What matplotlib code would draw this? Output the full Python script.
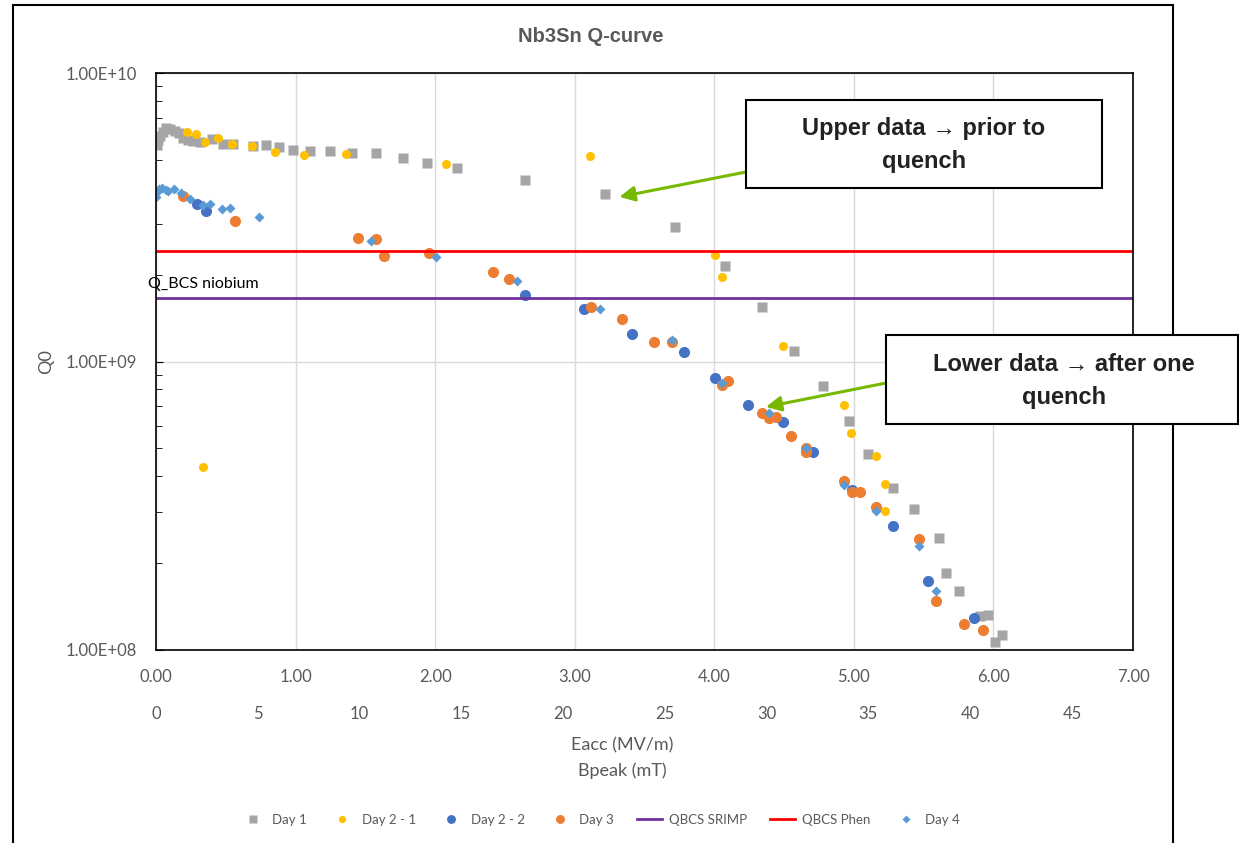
import numpy as np
import matplotlib
matplotlib.use('Agg')
import matplotlib.pyplot as plt
from matplotlib.patches import Rectangle
from matplotlib.ticker import FixedLocator, FuncFormatter, LogLocator, NullFormatter

plt.rcParams['font.family'] = ['Lato', 'DejaVu Sans']

# Eacc (MV/m) / Q0 for every run
day1_e = [0.007, 0.014, 0.029, 0.050, 0.072, 0.100, 0.136, 0.165, 0.193, 0.229,
          0.265, 0.315, 0.401, 0.480, 0.552, 0.695, 0.788, 0.881, 0.981, 1.103,
          1.246, 1.404, 1.576, 1.769, 1.941, 2.156, 2.643, 3.216, 3.718, 4.076,
          4.341, 4.570, 4.778, 4.964, 5.100, 5.279, 5.430, 5.609, 5.659, 5.752,
          5.903, 5.960, 6.010, 6.060]
day1_q = [5.63e9, 5.86e9, 6.05e9, 6.24e9, 6.45e9, 6.40e9, 6.29e9, 6.20e9, 5.95e9, 5.86e9,
          5.81e9, 5.77e9, 5.90e9, 5.67e9, 5.67e9, 5.58e9, 5.63e9, 5.54e9, 5.41e9, 5.37e9,
          5.37e9, 5.28e9, 5.28e9, 5.08e9, 4.88e9, 4.69e9, 4.26e9, 3.81e9, 2.92e9, 2.14e9,
          1.545e9, 1.088e9, 8.22e8, 6.22e8, 4.78e8, 3.64e8, 3.08e8, 2.44e8, 1.85e8, 1.60e8,
          1.31e8, 1.32e8, 1.07e8, 1.13e8]

day21_e = [0.222, 0.287, 0.351, 0.444, 0.544, 0.688, 0.852, 1.060, 1.361, 2.077,
           3.109, 4.004, 4.054, 4.491, 4.928, 4.979, 5.158, 5.222, 5.222, 0.337]
day21_q = [6.24e9, 6.15e9, 5.77e9, 5.95e9, 5.67e9, 5.58e9, 5.32e9, 5.20e9, 5.24e9, 4.84e9,
           5.16e9, 2.34e9, 1.96e9, 1.13e9, 7.07e8, 5.65e8, 4.70e8, 3.76e8, 3.03e8, 4.31e8]

day22_e = [0.294, 0.358, 2.643, 3.066, 3.410, 3.782, 4.004, 4.241, 4.491, 4.706,
           4.986, 5.279, 5.530, 5.860]
day22_q = [3.51e9, 3.32e9, 1.70e9, 1.52e9, 1.245e9, 1.079e9, 8.77e8, 7.07e8, 6.17e8, 4.86e8,
           3.59e8, 2.69e8, 1.73e8, 1.29e8]

day3_e = [0.193, 0.566, 1.447, 1.576, 1.633, 1.956, 2.414, 2.529, 3.116, 3.338,
          3.567, 3.696, 4.097, 4.054, 4.341, 4.391, 4.441, 4.549, 4.656, 4.656,
          4.928, 4.986, 5.043, 5.158, 5.466, 5.587, 5.788, 5.924]
day3_q = [3.75e9, 3.07e9, 2.68e9, 2.66e9, 2.32e9, 2.38e9, 2.04e9, 1.93e9, 1.545e9, 1.40e9,
          1.168e9, 1.168e9, 8.56e8, 8.29e8, 6.63e8, 6.37e8, 6.42e8, 5.52e8, 5.01e8, 4.86e8,
          3.85e8, 3.53e8, 3.53e8, 3.13e8, 2.43e8, 1.48e8, 1.23e8, 1.17e8]

day4_e = [0.0, 0.007, 0.021, 0.043, 0.072, 0.086, 0.129, 0.179, 0.244, 0.337,
          0.387, 0.473, 0.530, 0.738, 1.540, 2.006, 2.586, 3.181, 3.696, 4.054,
          4.391, 4.656, 4.928, 5.158, 5.466, 5.587]
day4_q = [3.72e9, 3.87e9, 3.96e9, 3.99e9, 3.93e9, 3.90e9, 3.96e9, 3.84e9, 3.66e9, 3.49e9,
          3.51e9, 3.38e9, 3.40e9, 3.17e9, 2.62e9, 2.30e9, 1.90e9, 1.52e9, 1.187e9, 8.42e8,
          6.63e8, 5.01e8, 3.73e8, 3.03e8, 2.29e8, 1.60e8]

# reference lines
line_e = [0, 7]
q_srimp = 1.66e9
q_phen = 2.42e9

eacc_ticks = [0, 1, 2, 3, 4, 5, 6, 7]
bpeak_ticks = [0, 5, 10, 15, 20, 25, 30, 35, 40, 45]
b_per_e = 48 / 7

grey_txt = '#595959'

fig = plt.figure(figsize=(12.39, 8.43), dpi=100)
ax = fig.add_axes([156 / 1239, 1 - 650 / 843, 977 / 1239, 577 / 843])

ax.plot(day1_e, day1_q, 's', color='#A5A5A5', ms=6.5, mec='none', label='Day 1')
ax.plot(day21_e, day21_q, 'o', color='#FFC000', ms=6.5, mec='none', label='Day 2 - 1')
ax.plot(day22_e, day22_q, 'o', color='#4472C4', ms=8, mec='none', label='Day 2 - 2')
ax.plot(day3_e, day3_q, 'o', color='#ED7D31', ms=8, mec='none', label='Day 3')
ax.plot(line_e, [q_srimp, q_srimp], '-', color='#7030A0', lw=2, label='QBCS SRIMP')
ax.plot(line_e, [q_phen, q_phen], '-', color='#FF0000', lw=2, label='QBCS Phen')
ax.plot(day4_e, day4_q, 'D', color='#5B9BD5', ms=5, mec='none', label='Day 4')

ax.set_yscale('log')
ax.set_ylim(1e8, 1e10)
ax.set_xlim(0, 7)

ax.yaxis.set_major_locator(FixedLocator([1e8, 1e9, 1e10]))
ax.yaxis.set_major_formatter(FuncFormatter(lambda v, p: f'{v:.2E}'))
ax.yaxis.set_minor_locator(LogLocator(base=10, subs=np.arange(2, 10)))
ax.yaxis.set_minor_formatter(NullFormatter())
ax.xaxis.set_major_locator(FixedLocator(eacc_ticks))
ax.xaxis.set_major_formatter(FuncFormatter(lambda v, p: f'{v:.2f}'))

ax.grid(True, which='major', color='#D9D9D9', lw=1)
ax.set_axisbelow(True)
for s in ax.spines.values():
    s.set_color('black')
    s.set_linewidth(1.2)

ax.tick_params(axis='y', which='major', direction='in', length=5, color='black',
               labelsize=12, labelcolor=grey_txt, pad=14)
ax.tick_params(axis='y', which='minor', direction='in', length=4, color='black')
ax.tick_params(axis='x', length=0, labelsize=12, labelcolor=grey_txt, pad=14)

sec = ax.secondary_xaxis('bottom', functions=(lambda e: e * b_per_e, lambda b: b / b_per_e))
sec.set_xticks(bpeak_ticks)
sec.tick_params(length=0, labelsize=12, labelcolor=grey_txt, pad=40.5)
sec.spines['bottom'].set_visible(False)

ax.set_ylabel('Q0', fontsize=13, color=grey_txt, labelpad=8)
fig.text(622 / 1239, 1 - 745 / 843, 'Eacc (MV/m)', ha='center', va='center',
         fontsize=13, color=grey_txt)
fig.text(622 / 1239, 1 - 771 / 843, 'Bpeak (mT)', ha='center', va='center',
         fontsize=13, color=grey_txt)

fig.text(591 / 1239, 1 - 37 / 843, 'Nb3Sn Q-curve', ha='center', va='center',
         fontsize=14.5, fontweight='bold', color=grey_txt,
         family=['Liberation Sans', 'DejaVu Sans'])

ax.text(-0.055, q_srimp * 1.12, 'Q_BCS niobium', fontsize=11.5, color='black',
        ha='left', va='center')

# chart border
fig.add_artist(Rectangle((13 / 1239, -0.02), (1173 - 13) / 1239, 1.02 - 5 / 843,
                         transform=fig.transFigure, fill=False, ec='black', lw=1.5))

# callout boxes
box_font = dict(fontsize=17, fontweight='bold', color='#222222', ha='center',
                va='center', family=['Liberation Sans', 'DejaVu Sans'],
                linespacing=1.55)
fig.add_artist(Rectangle((746 / 1239, 1 - 188 / 843), 356 / 1239, 88 / 843,
                         transform=fig.transFigure, fc='white', ec='black', lw=1.5, zorder=5))
fig.text(924 / 1239, 1 - 145 / 843, 'Upper data \u2192 prior to\nquench', zorder=6, **box_font)
fig.add_artist(Rectangle((886 / 1239, 1 - 424 / 843), 352 / 1239, 89 / 843,
                         transform=fig.transFigure, fc='white', ec='black', lw=1.5, zorder=5))
fig.text(1064 / 1239, 1 - 381 / 843, 'Lower data \u2192 after one\nquench', zorder=6, **box_font)

arrow = dict(arrowstyle='-|>,head_length=0.9,head_width=0.45', color='#77B900', lw=2.2,
             shrinkA=0, shrinkB=0)
ax.annotate('', xy=(3.32, 3.72e9), xytext=(746 / 1239, 1 - 172 / 843),
            textcoords='figure fraction', arrowprops=arrow)
ax.annotate('', xy=(4.37, 6.96e8), xytext=(886 / 1239, 1 - 383 / 843),
            textcoords='figure fraction', arrowprops=arrow)

fig.legend(loc='center', bbox_to_anchor=(600 / 1239, 1 - 820 / 843), ncol=7,
           frameon=False, fontsize=9.5, labelcolor=grey_txt, handlelength=1.9,
           columnspacing=1.75, handletextpad=0.5, markerscale=0.8)

fig.savefig('out.png', dpi=100)
